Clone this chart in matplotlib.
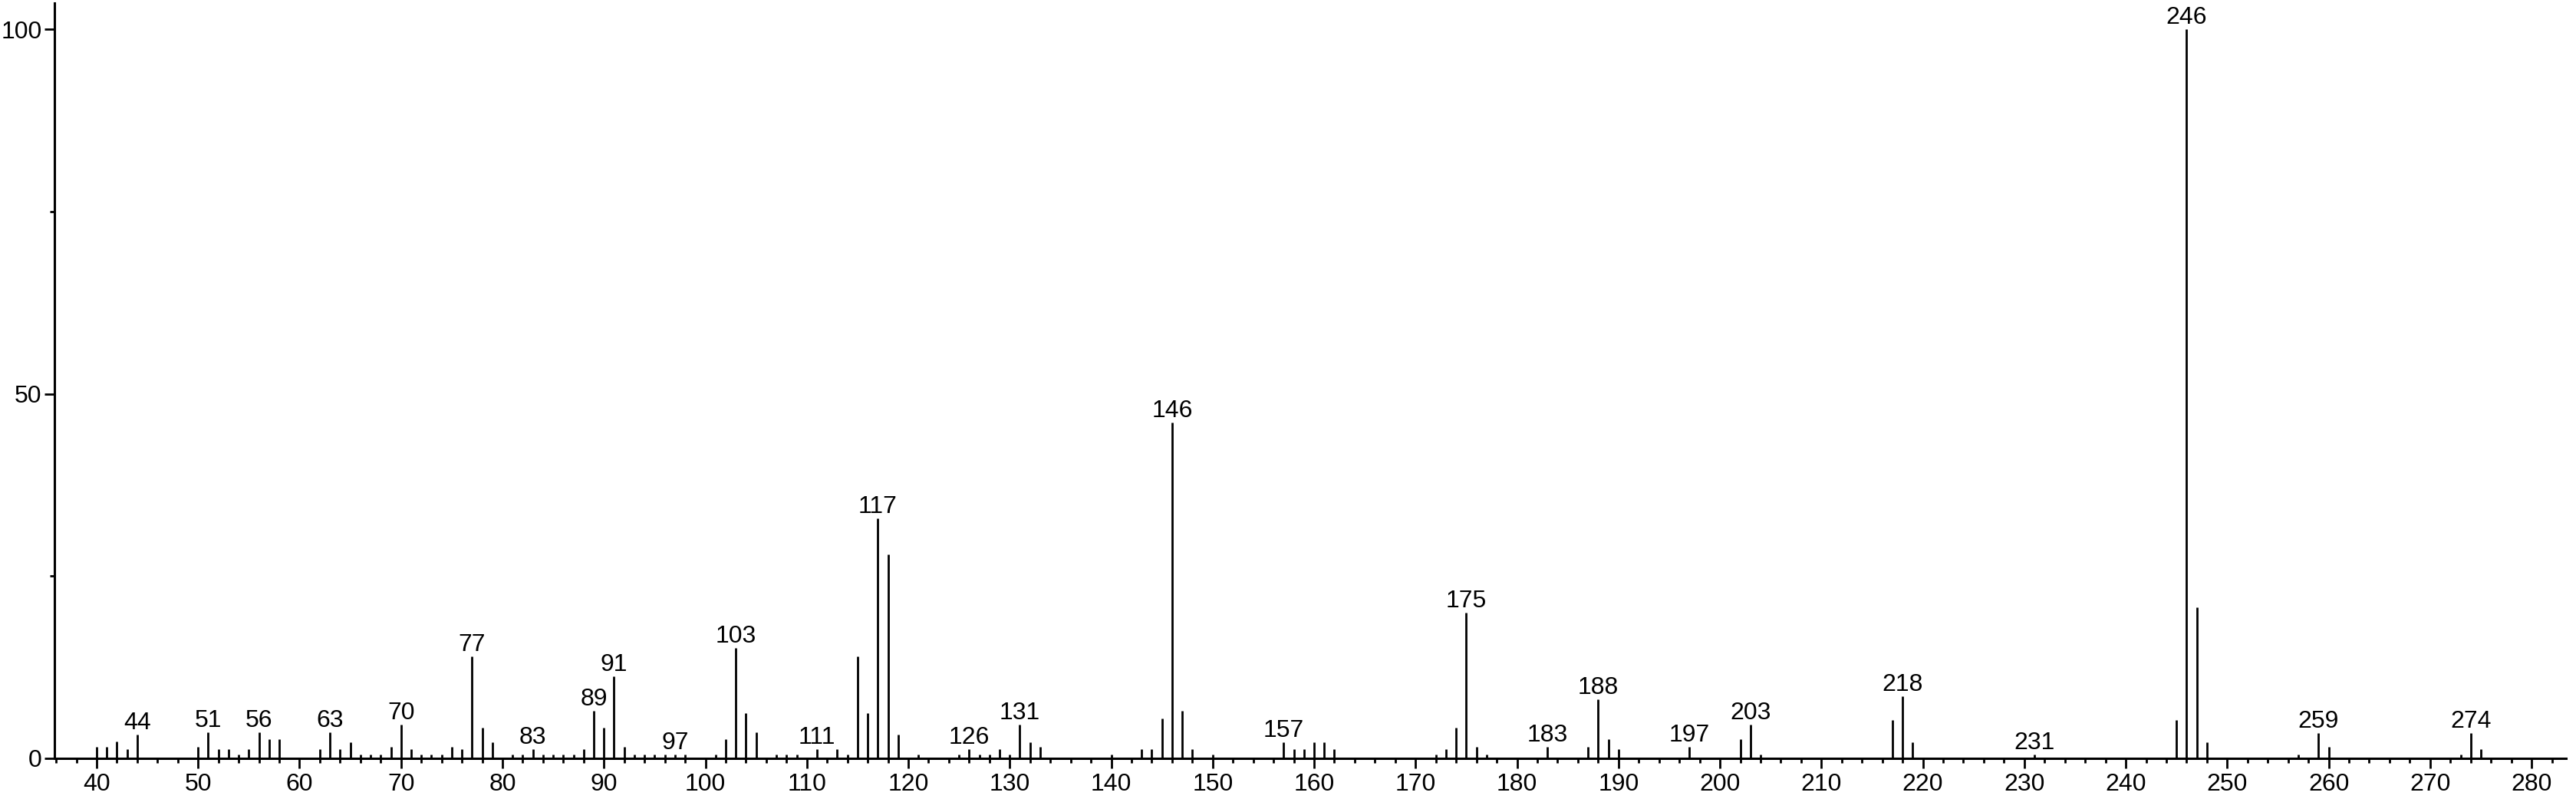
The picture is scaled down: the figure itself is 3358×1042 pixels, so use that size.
import matplotlib
matplotlib.use("Agg")
import matplotlib.pyplot as plt
from matplotlib.ticker import MultipleLocator

plt.rcParams["font.family"] = ["Liberation Sans", "DejaVu Sans"]

# m/z values and relative intensities
mz = [40, 41, 42, 43, 44, 50, 51, 52, 53, 54, 55, 56, 57, 58, 62, 63, 64, 65,
      66, 67, 68, 69, 70, 71, 72, 73, 74, 75, 76, 77, 78, 79, 81, 82, 83, 84,
      85, 86, 87, 88, 89, 90, 91, 92, 93, 94, 95, 96, 97, 98, 101, 102, 103,
      104, 105, 107, 108, 109, 111, 113, 114, 115, 116, 117, 118, 119, 121,
      125, 126, 127, 128, 129, 130, 131, 132, 133, 140, 143, 144, 145, 146,
      147, 148, 150, 157, 158, 159, 160, 161, 162, 172, 173, 174, 175, 176,
      177, 183, 187, 188, 189, 190, 197, 202, 203, 204, 217, 218, 219, 231,
      245, 246, 247, 248, 257, 259, 260, 273, 274, 275]
intensity = [1.6, 1.6, 2.3, 1.3, 3.2, 1.6, 3.6, 1.3, 1.3, 0.5, 1.3, 3.6, 2.6,
             2.6, 1.3, 3.6, 1.3, 2.2, 0.5, 0.5, 0.5, 1.6, 4.6, 1.3, 0.5, 0.5,
             0.5, 1.6, 1.3, 14.0, 4.2, 2.2, 0.5, 0.5, 1.3, 0.5, 0.5, 0.5, 0.5,
             1.3, 6.5, 4.2, 11.2, 1.6, 0.5, 0.5, 0.5, 0.5, 0.5, 0.5, 0.5, 2.6,
             15.1, 6.2, 3.6, 0.5, 0.5, 0.5, 1.3, 1.3, 0.5, 14.0, 6.2, 32.9,
             28.0, 3.2, 0.5, 0.5, 1.3, 0.5, 0.5, 1.3, 0.5, 4.6, 2.2, 1.6, 0.5,
             1.3, 1.3, 5.5, 46.1, 6.5, 1.3, 0.5, 2.2, 1.3, 1.3, 2.2, 2.2, 1.3,
             0.5, 1.3, 4.2, 20.0, 1.6, 0.5, 1.6, 1.6, 8.1, 2.6, 1.3, 1.6, 2.6,
             4.6, 0.5, 5.2, 8.5, 2.2, 0.5, 5.2, 100.0, 20.7, 2.2, 0.5, 3.5, 1.6,
             0.5, 3.5, 1.3]
labeled = [44, 51, 56, 63, 70, 77, 83, 89, 91, 97, 103, 111, 117, 126, 131,
           146, 157, 175, 183, 188, 197, 203, 218, 231, 246, 259, 274]

fig = plt.figure(figsize=(33.58, 10.42), dpi=100)
ax = fig.add_axes([0.02105, 0.051, 0.9751, 0.945])

ax.vlines(mz, 0, intensity, color="black", lw=2.0)
for m, h in zip(mz, intensity):
    if m in labeled:
        ax.annotate(str(m), (m, h), xytext=(0, 5), textcoords="offset points",
                    ha="center", va="baseline", fontsize=23)

ax.set_xlim(35.82, 283.4)
ax.set_ylim(0, 103.6)

for s in ["top", "right"]:
    ax.spines[s].set_visible(False)
for s in ["left", "bottom"]:
    ax.spines[s].set_linewidth(2.2)

ax.xaxis.set_minor_locator(MultipleLocator(2))
ax.yaxis.set_major_locator(MultipleLocator(50))
ax.yaxis.set_minor_locator(MultipleLocator(25))
ax.set_xticks(range(40, 281, 10))

ax.tick_params(which="major", length=9.5, width=2.0, labelsize=23, direction="out")
ax.tick_params(which="minor", length=4.5, width=2.0, direction="out")
ax.tick_params(axis="x", which="major", pad=4)
ax.tick_params(axis="y", which="major", pad=2)

fig.savefig("out.png", dpi=100)
